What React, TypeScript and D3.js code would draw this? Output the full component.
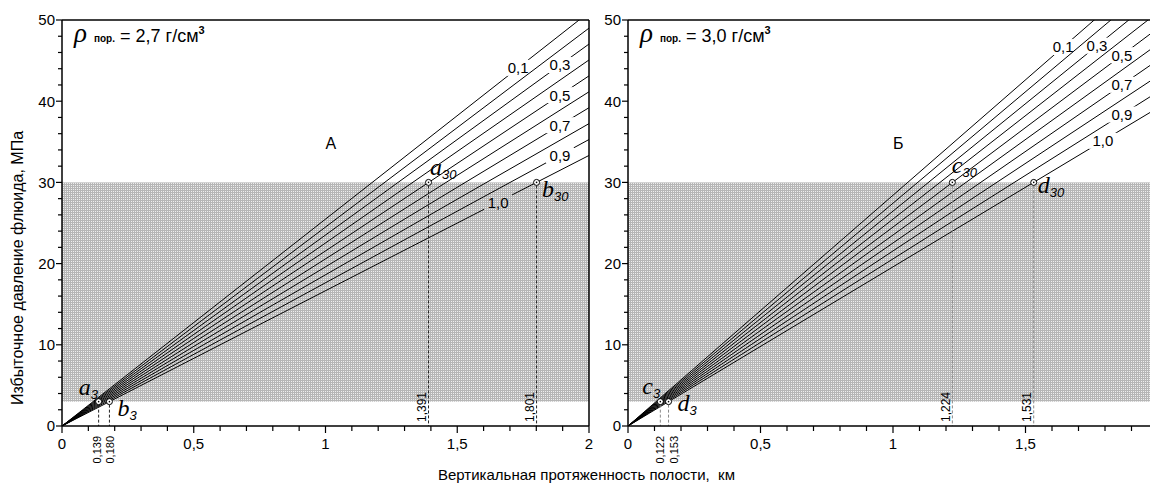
import React from 'react'
import * as d3 from 'd3'

// fluid densities of the fan lines, g/cm3
const fluidDensities = [0.1, 0.2, 0.3, 0.4, 0.5, 0.6, 0.7, 0.8, 0.9, 1.0]
// pressure gradient of each line, MPa per km
const gradientsA = [25.48, 24.5, 23.52, 22.54, 21.56, 20.58, 19.6, 18.62, 17.64, 16.66]
const gradientsB = [28.42, 27.44, 26.46, 25.48, 24.5, 23.52, 22.54, 21.56, 20.58, 19.6]

// where each labelled line carries its label (km along the line)
const lineLabelsA = [
  { rho: 0.1, text: '0,1', h: 1.731 },
  { rho: 0.3, text: '0,3', h: 1.89 },
  { rho: 0.5, text: '0,5', h: 1.89 },
  { rho: 0.7, text: '0,7', h: 1.89 },
  { rho: 0.9, text: '0,9', h: 1.89 },
  { rho: 1.0, text: '1,0', h: 1.655 }
]
const lineLabelsB = [
  { rho: 0.1, text: '0,1', h: 1.642 },
  { rho: 0.3, text: '0,3', h: 1.77 },
  { rho: 0.5, text: '0,5', h: 1.864 },
  { rho: 0.7, text: '0,7', h: 1.864 },
  { rho: 0.9, text: '0,9', h: 1.864 },
  { rho: 1.0, text: '1,0', h: 1.792 }
]

// marked points: letter, subscript, depth (km), pressure (MPa)
const pointsA = [
  { name: 'a', sub: '3', h: 0.139, p: 3, label: '0,139' },
  { name: 'b', sub: '3', h: 0.180, p: 3, label: '0,180' },
  { name: 'a', sub: '30', h: 1.391, p: 30, label: '1,391' },
  { name: 'b', sub: '30', h: 1.801, p: 30, label: '1,801' }
]
const pointsB = [
  { name: 'c', sub: '3', h: 0.122, p: 3, label: '0,122' },
  { name: 'd', sub: '3', h: 0.153, p: 3, label: '0,153' },
  { name: 'c', sub: '30', h: 1.224, p: 30, label: '1,224' },
  { name: 'd', sub: '30', h: 1.531, p: 30, label: '1,531' }
]

const zoneLow = 3
const zoneHigh = 30

const xTicksMajor = [0, 0.5, 1, 1.5, 2]
const yTicksMajor = [0, 10, 20, 30, 40, 50]

const sans = 'Arial, "Liberation Sans", sans-serif'
const serif = '"Times New Roman", "Liberation Serif", serif'

const y = d3.scaleLinear().domain([0, 50]).range([426, 20])

// letter offsets relative to the point (dx, dy of baseline), value label dx
const offsetsA = [[-20, -7, -1.6], [8, 14, 0.6], [1.5, -7, -6.5], [5.5, 15, -6.5]]
const offsetsB = [[-18, -8, -0.5], [9, 9, 5], [-0.5, -9, -7], [4, 11, -7]]

const Panel = ({ id, x, gradients, lineLabels, points, offsets, rockText, letter, dashColor }) => {
  const [x0, x1] = x.range()
  const right = Math.min(x1, 1150)
  const minor = d3.range(0, 2.001, 0.1).filter(v => x(v) <= 1150)
  const yMinor = d3.range(0, 50.001, 2)
  return (
    <g>
      <defs>
        <clipPath id={`clip-${id}`}>
          <rect x={x0} y={y(50)} width={x1 - x0} height={y(0) - y(50)} />
        </clipPath>
        {lineLabels.map(l => {
          const i = fluidDensities.indexOf(l.rho)
          const cx = x(l.h)
          const cy = y(gradients[i] * l.h)
          return (
            <mask id={`m-${id}-${i}`} key={i} maskUnits='userSpaceOnUse' x={0} y={0} width={1150} height={484}>
              <rect x={0} y={0} width={1150} height={484} fill='#fff' />
              <rect x={cx - 14} y={cy - 8} width={28} height={16} fill='#000' />
            </mask>
          )
        })}
      </defs>
      <rect x={x0} y={y(zoneHigh)} width={x1 - x0} height={y(zoneLow) - y(zoneHigh)} fill='url(#hatch)' />
      <g clipPath={`url(#clip-${id})`}>
        {gradients.map((g, i) => {
          const hasLabel = lineLabels.some(l => l.rho === fluidDensities[i])
          return (
            <line key={i} x1={x(0)} y1={y(0)} x2={x(2)} y2={y(g * 2)}
              stroke='#000' strokeWidth={1}
              mask={hasLabel ? `url(#m-${id}-${i})` : undefined} />
          )
        })}
      </g>
      {lineLabels.map(l => {
        const i = fluidDensities.indexOf(l.rho)
        return (
          <text key={i} x={x(l.h)} y={y(gradients[i] * l.h)} dy='0.36em' textAnchor='middle'
            fontFamily={sans} fontSize={15}>{l.text}</text>
        )
      })}
      {points.map((pt, i) => (
        <g key={i}>
          <line x1={x(pt.h)} x2={x(pt.h)} y1={y(pt.p) + 3} y2={y(0)} stroke={dashColor} strokeWidth={1} strokeDasharray='3,2' />
          <circle cx={x(pt.h)} cy={y(pt.p)} r={3} fill='#fff' stroke='#000' strokeWidth={1} />
          <circle cx={x(pt.h)} cy={y(pt.p)} r={0.8} fill='#000' />
          <text x={x(pt.h) + offsets[i][0]} y={y(pt.p) + offsets[i][1]} fontFamily={serif} fontStyle='italic' fontSize={24}>
            {pt.name}
            <tspan fontFamily={sans} fontSize={13} dy={4}>{pt.sub}</tspan>
          </text>
          {pt.p > 10
            ? <text transform={`translate(${x(pt.h) + offsets[i][2]},${y(0) - 4}) rotate(-90)`} dy='0.36em'
                fontFamily={sans} fontSize={12}>{pt.label}</text>
            : <text transform={`translate(${x(pt.h) + offsets[i][2]},${y(0) + 10}) rotate(-90)`} dy='0.36em' textAnchor='end'
                fontFamily={sans} fontSize={11}>{pt.label}</text>}
        </g>
      ))}
      {/* frame */}
      <line x1={x0} x2={right} y1={y(50)} y2={y(50)} stroke='#000' strokeWidth={1.5} />
      {x1 <= 1150 && <line x1={x1} x2={x1} y1={y(50)} y2={y(0)} stroke='#000' strokeWidth={1.5} />}
      <line x1={x0} x2={right} y1={y(0)} y2={y(0)} stroke='#000' strokeWidth={1.5} />
      <line x1={x0} x2={x0} y1={y(50)} y2={y(0)} stroke='#000' strokeWidth={1.5} />
      {minor.map((v, i) => (
        <line key={i} x1={x(v)} x2={x(v)} y1={y(0)} y2={y(0) + (i % 5 === 0 ? 7 : 5)} stroke='#000' strokeWidth={1.2} />
      ))}
      {xTicksMajor.filter(v => x(v) <= 1145).map(v => (
        <text key={v} x={x(v)} y={449} textAnchor='middle' fontFamily={sans} fontSize={15}>
          {d3.format('~g')(v).replace('.', ',')}
        </text>
      ))}
      {yMinor.map((v, i) => (
        <line key={i} x1={x0 - (i % 5 === 0 ? 6 : 4)} x2={x0} y1={y(v)} y2={y(v)} stroke='#000' strokeWidth={1.2} />
      ))}
      {yTicksMajor.map(v => (
        <text key={v} x={x0 - 7} y={y(v)} dy='0.36em' textAnchor='end' fontFamily={sans} fontSize={15}>{v}</text>
      ))}
      <text x={x0 + 12} y={42} fontSize={18} fontFamily={sans}>
        <tspan fontFamily={serif} fontStyle='italic' fontSize={27}>ρ</tspan>
        <tspan fontWeight='bold' fontSize={10} dx={7}>пор.</tspan>
        <tspan dx={5}>= {rockText} г/см</tspan>
        <tspan fontSize={11} fontWeight='bold' dy={-8}>3</tspan>
      </text>
      <text x={x(1.02)} y={149} textAnchor='middle' fontFamily={sans} fontSize={16}>{letter}</text>
    </g>
  )
}

export default function App () {
  const xA = d3.scaleLinear().domain([0, 2]).range([62, 589])
  const xB = d3.scaleLinear().domain([0, 2]).range([628, 1158])
  return (
    <svg width={1150} height={484} style={{ position: 'absolute', left: 0, top: 0, background: '#fff' }}>
      <defs>
        <pattern id='hatch' patternUnits='userSpaceOnUse' width={2} height={2}>
          <rect width={2} height={2} fill='#b6b6b6' />
          <rect x={1} y={1} width={1} height={1} fill='#eeeeee' />
        </pattern>
      </defs>
      <rect width={1150} height={484} fill='#fff' />
      <Panel id='a' x={xA} gradients={gradientsA} lineLabels={lineLabelsA} points={pointsA}
        offsets={offsetsA} rockText='2,7' letter='А' dashColor='#222' />
      <Panel id='b' x={xB} gradients={gradientsB} lineLabels={lineLabelsB} points={pointsB}
        offsets={offsetsB} rockText='3,0' letter='Б' dashColor='#888' />
      <text transform='translate(23,268) rotate(-90)' textAnchor='middle' fontFamily={sans} fontSize={16}>
        Избыточное давление флюида, МПа
      </text>
      <text x={438} y={480} fontFamily={sans} fontSize={15} xmlSpace='preserve'>
        {'Вертикальная протяженность полости,  км'}
      </text>
    </svg>
  )
}
